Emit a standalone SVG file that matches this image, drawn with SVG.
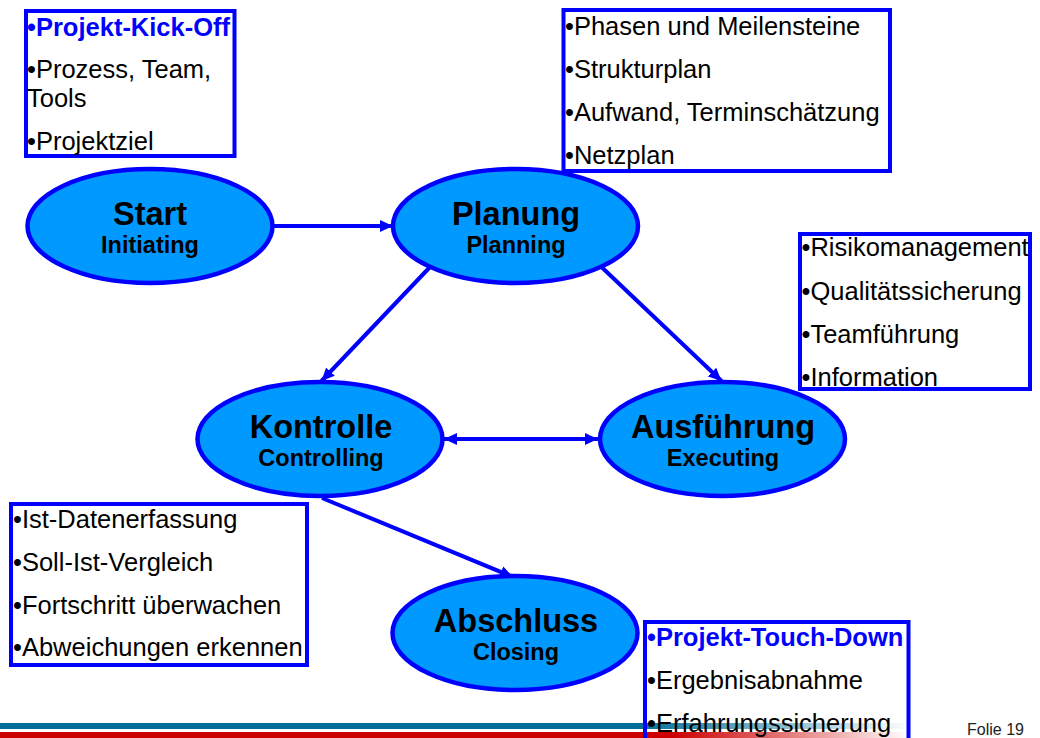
<svg xmlns="http://www.w3.org/2000/svg" width="1040" height="738" viewBox="0 0 1040 738">
  <defs>
    <style>
      .phase { fill: #0099FF; stroke: #0000FF; stroke-width: 4.5; }
      .t1 { font-family: "Liberation Sans", Arial, sans-serif; font-weight: bold; font-size: 32.5px; text-anchor: middle; fill: #000; }
      .t2 { font-family: "Liberation Sans", Arial, sans-serif; font-weight: bold; font-size: 23.5px; text-anchor: middle; fill: #000; }
      .box { fill: none; stroke: #0000FF; stroke-width: 4; }
      .item { font-family: "Liberation Sans", Arial, sans-serif; font-size: 25.5px; fill: #000; }
      .key { font-weight: bold; fill: #0000FF; }
      .conn { fill: none; stroke: #0000FF; stroke-width: 4; }
      .folio { font-family: "Liberation Sans", Arial, sans-serif; font-size: 16px; fill: #222; }
    </style>
    <marker id="head" markerUnits="userSpaceOnUse" markerWidth="14" markerHeight="13" refX="13" refY="6.5" orient="auto-start-reverse">
      <path d="M0,0.5 L13,6.5 L0,12.5 z" fill="#0000FF"/>
    </marker>
    <linearGradient id="tealBar" gradientUnits="userSpaceOnUse" x1="0" y1="0" x2="910" y2="0">
      <stop offset="0" stop-color="#006E96"/>
      <stop offset="0.7" stop-color="#006E96"/>
      <stop offset="1" stop-color="#006E96" stop-opacity="0"/>
    </linearGradient>
    <linearGradient id="redBar" gradientUnits="userSpaceOnUse" x1="0" y1="0" x2="910" y2="0">
      <stop offset="0" stop-color="#CC0000"/>
      <stop offset="0.74" stop-color="#CC0000"/>
      <stop offset="1" stop-color="#CC0000" stop-opacity="0"/>
    </linearGradient>
  </defs>

  <rect x="0" y="0" width="1040" height="738" fill="#FFFFFF"/>

  <!-- footer bars -->
  <g id="footer">
    <rect x="0" y="723" width="910" height="6" fill="url(#tealBar)"/>
    <rect x="0" y="732" width="910" height="6" fill="url(#redBar)"/>
    <text class="folio" x="967" y="735">Folie 19</text>
  </g>

  <!-- connectors -->
  <g id="connectors">
    <line class="conn" x1="272.5" y1="226" x2="393" y2="226" marker-end="url(#head)"/>
    <line class="conn" x1="430" y1="267" x2="321.5" y2="381" marker-end="url(#head)"/>
    <line class="conn" x1="601.5" y1="267" x2="721.5" y2="381" marker-end="url(#head)"/>
    <line class="conn" x1="444" y1="439" x2="598" y2="439" marker-start="url(#head)" marker-end="url(#head)"/>
    <line class="conn" x1="322" y1="498" x2="513" y2="577" marker-end="url(#head)"/>
  </g>

  <!-- phases -->
  <g id="start">
    <ellipse class="phase" cx="150" cy="226" rx="122.5" ry="57"/>
    <text class="t1" x="150" y="225">Start</text>
    <text class="t2" x="150" y="253">Initiating</text>
  </g>
  <g id="planung">
    <ellipse class="phase" cx="515.5" cy="226" rx="122.5" ry="57"/>
    <text class="t1" x="516" y="225">Planung</text>
    <text class="t2" x="516" y="253">Planning</text>
  </g>
  <g id="kontrolle">
    <ellipse class="phase" cx="320" cy="439" rx="122.5" ry="57"/>
    <text class="t1" x="321" y="438">Kontrolle</text>
    <text class="t2" x="321" y="466">Controlling</text>
  </g>
  <g id="ausfuehrung">
    <ellipse class="phase" cx="722.5" cy="439" rx="122.5" ry="57"/>
    <text class="t1" x="723" y="438">Ausführung</text>
    <text class="t2" x="723" y="466">Executing</text>
  </g>
  <g id="abschluss">
    <ellipse class="phase" cx="515" cy="633" rx="122.5" ry="57"/>
    <text class="t1" x="516" y="632">Abschluss</text>
    <text class="t2" x="516" y="660">Closing</text>
  </g>

  <!-- task lists -->
  <g id="list-start">
    <rect class="box" x="26" y="11" width="208.5" height="145"/>
    <text class="item key" x="27" y="35.5">•Projekt-Kick-Off</text>
    <text class="item" x="27" y="78">•Prozess, Team,</text>
    <text class="item" x="27" y="107">Tools</text>
    <text class="item" x="27" y="149.5">•Projektziel</text>
  </g>
  <g id="list-planung">
    <rect class="box" x="563.5" y="10" width="326.5" height="161"/>
    <text class="item" x="565" y="34.5">•Phasen und Meilensteine</text>
    <text class="item" x="565" y="77.5">•Strukturplan</text>
    <text class="item" x="565" y="120.5">•Aufwand, Terminschätzung</text>
    <text class="item" x="565" y="163.5">•Netzplan</text>
  </g>
  <g id="list-ausfuehrung">
    <rect class="box" x="800" y="234" width="230" height="155"/>
    <text class="item" x="801.5" y="256">•Risikomanagement</text>
    <text class="item" x="801.5" y="299.5">•Qualitätssicherung</text>
    <text class="item" x="801.5" y="342.5">•Teamführung</text>
    <text class="item" x="801.5" y="385.5">•Information</text>
  </g>
  <g id="list-kontrolle">
    <rect class="box" x="11" y="504" width="296" height="161"/>
    <text class="item" x="13" y="528">•Ist-Datenerfassung</text>
    <text class="item" x="13" y="571">•Soll-Ist-Vergleich</text>
    <text class="item" x="13" y="613.5">•Fortschritt überwachen</text>
    <text class="item" x="13" y="656">•Abweichungen erkennen</text>
  </g>
  <g id="list-abschluss">
    <rect class="box" x="645" y="622" width="263.5" height="140"/>
    <text class="item key" x="647" y="646">•Projekt-Touch-Down</text>
    <text class="item" x="647" y="689">•Ergebnisabnahme</text>
    <text class="item" x="647" y="732">•Erfahrungssicherung</text>
  </g>
</svg>
